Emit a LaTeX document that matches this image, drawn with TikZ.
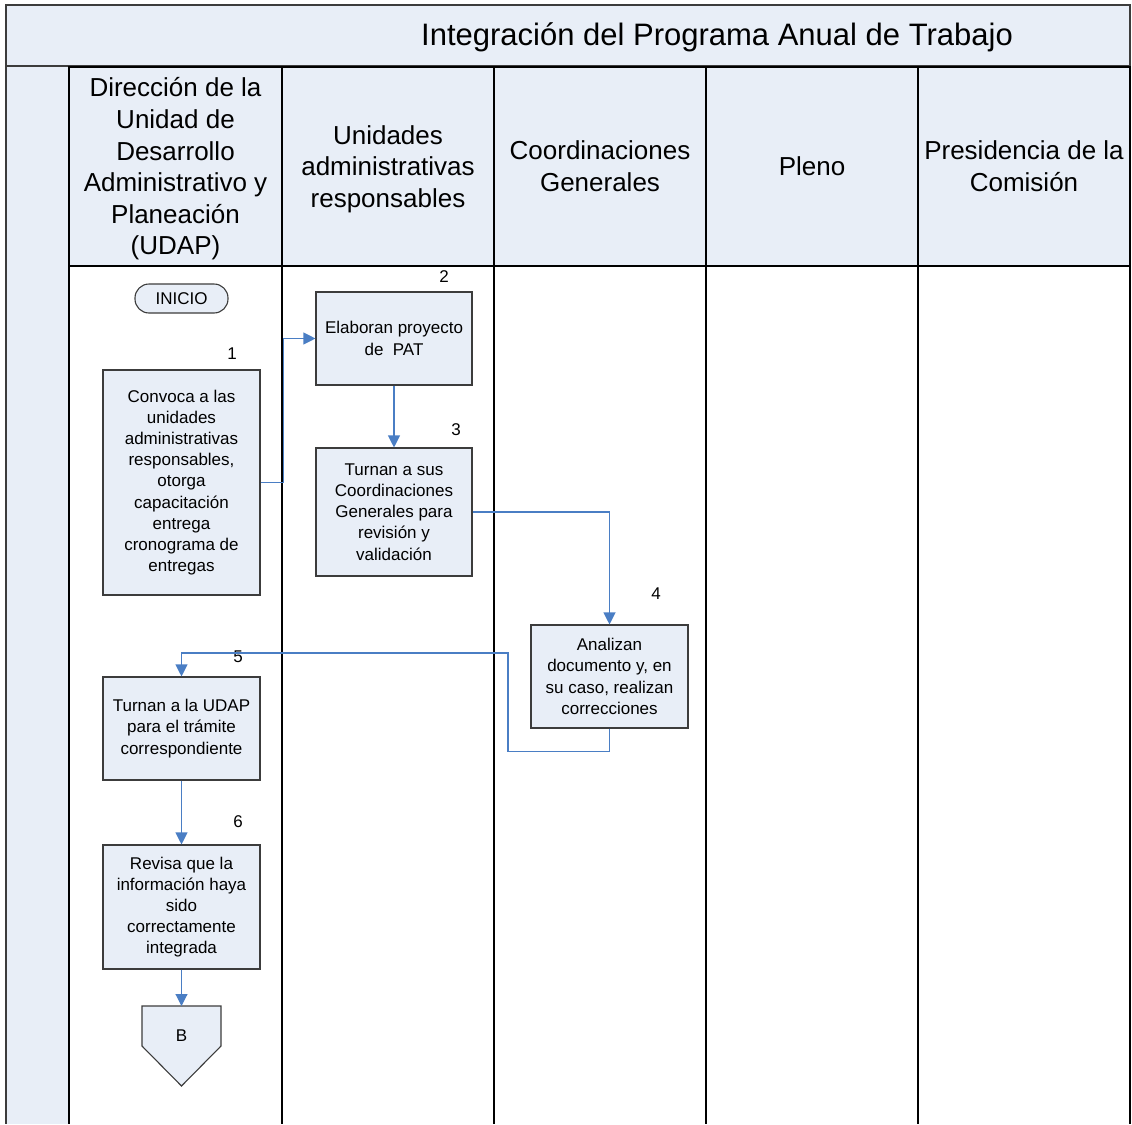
\documentclass[tikz,border=0pt]{standalone}
\usepackage{fontspec}
\setmainfont{Liberation Sans}
\usetikzlibrary{arrows.meta,positioning,calc}
\definecolor{lanefill}{HTML}{E8EEF7}
\definecolor{flowblue}{HTML}{4A7EC4}
\definecolor{boxline}{HTML}{3C3C3C}

\begin{document}
\begin{tikzpicture}[x=1pt, y=-1pt, >={Triangle[width=12pt,length=12pt]}]
\tikzstyle{activity}=[draw=boxline, fill=lanefill, line width=1.1pt, minimum width=157pt, align=center, font=\fontsize{17}{21.2}\selectfont]
\tikzstyle{lanehead}=[align=center, font=\fontsize{26}{31.6}\selectfont]
\tikzstyle{stepno}=[font=\fontsize{17}{20}\selectfont]
\tikzstyle{flow}=[->, draw=flowblue, line width=1.1pt]
\useasboundingbox (0,0) rectangle (1132,1124);

% title bar
\draw[fill=lanefill, draw=boxline, line width=1.6pt] (6,5) rectangle (1130,66);
\node[font=\fontsize{31}{36}\selectfont] (title) at (717,37) {Integración del Programa Anual de Trabajo};

% lanes
\fill[lanefill] (6,67) rectangle (69,1124);
\draw[boxline, line width=1.6pt] (6,66) -- (6,1124);
\foreach \xa/\xb in {69/282,282/494,494/706,706/918,918/1130}{
  \draw[fill=lanefill, line width=1.3pt] (\xa,67) rectangle (\xb,266);
  \draw[line width=1.3pt] (\xa,266) -- (\xa,1124) (\xb,266) -- (\xb,1124);
}
\node[lanehead] (udap) at (175.5,169) {Dirección de la\\Unidad de\\Desarrollo\\Administrativo y\\Planeación\\(UDAP)};
\node[lanehead] (unidades) at (388,169) {Unidades\\administrativas\\responsables};
\node[lanehead] (coord) at (600,166) {Coordinaciones\\Generales};
\node[lanehead] (pleno) at (812,166) {Pleno};
\node[lanehead] (presid) at (1024,166) {Presidencia de la\\Comisión};

% activities
\node[draw=boxline, fill=lanefill, line width=1.1pt, rounded corners=14pt, minimum width=93pt, minimum height=29pt, font=\fontsize{17}{20}\selectfont] (inicio) at (181.5,298.5) {INICIO};
\node[activity, minimum height=225pt] (act1) at (181.5,482.5) {Convoca a las\\unidades\\administrativas\\responsables,\\otorga\\capacitación\\entrega\\cronograma de\\entregas};
\node[activity, minimum width=156pt, minimum height=93pt] (act2) at (394,338.5) {Elaboran proyecto\\de\ \ PAT};
\node[activity, minimum width=156pt, minimum height=128pt] (act3) at (394,512) {Turnan a sus\\Coordinaciones\\Generales para\\revisión y\\validación};
\node[activity, minimum height=103pt] (act4) at (609.5,676.5) {Analizan\\documento y, en\\su caso, realizan\\correcciones};
\node[activity, minimum height=103pt] (act5) at (181.5,728.5) {Turnan a la UDAP\\para el trámite\\correspondiente};
\node[activity, minimum height=124pt] (act6) at (181.5,907) {Revisa que la\\información haya\\sido\\correctamente\\integrada};

\node[stepno] (n1) at (232,354) {1};
\node[stepno] (n2) at (444,277) {2};
\node[stepno] (n3) at (456,430) {3};
\node[stepno] (n4) at (656,594) {4};
\node[stepno] (n5) at (238,657) {5};
\node[stepno] (n6) at (238,822) {6};

% off-page connector
\draw[draw=boxline, fill=lanefill, line width=1.1pt] (142,1006) -- (221,1006) -- (221,1046) -- (181.5,1086) -- (142,1046) -- cycle;
\coordinate (btop) at (181.5,1006);
\node[font=\fontsize{17}{20}\selectfont] (pageB) at (181.5,1036) {B};

% flow
\coordinate (loop) at (508,653);
\draw[flow] (act1.east) -- ++(23,0) |- (act2.west);
\draw[flow] (act2) -- (act3);
\draw[flow] (act3.east) -| (act4.north);
\draw[flow] (act4.south) -- ++(0,23) -| (loop) -| (act5.north);
\draw[flow] (act5) -- (act6);
\draw[flow] (act6.south) -- (btop);
\end{tikzpicture}
\end{document}
